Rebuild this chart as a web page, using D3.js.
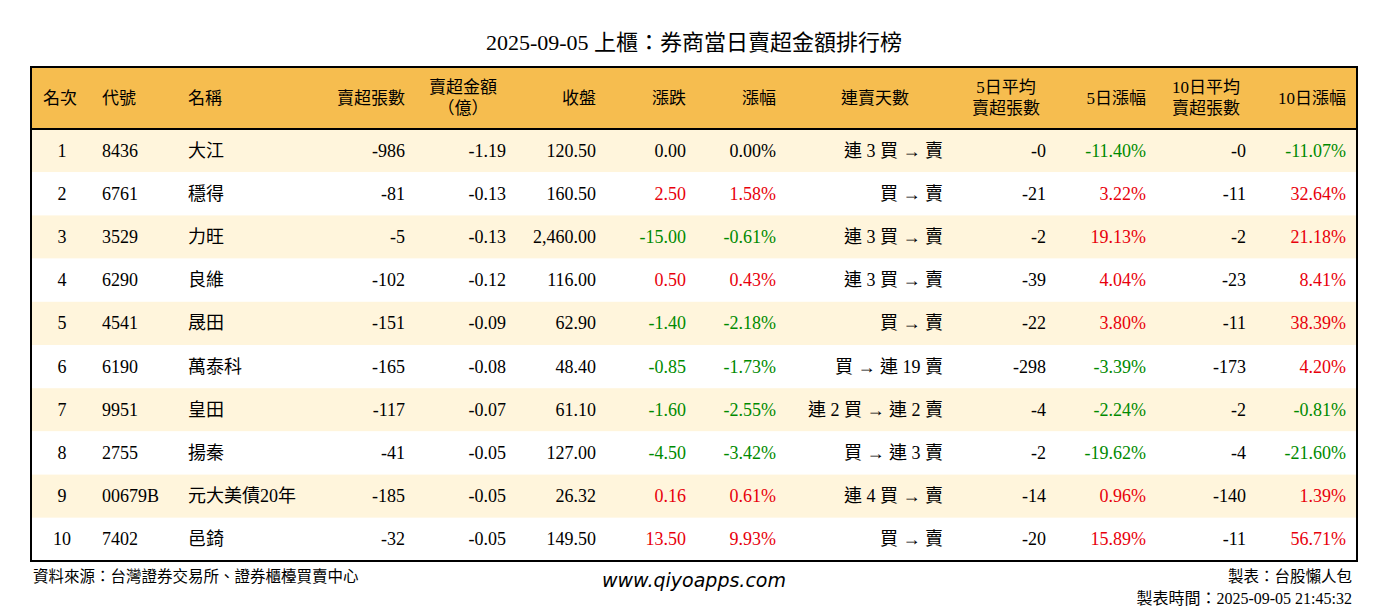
<!DOCTYPE html><html><head><meta charset="utf-8"><script src="https://cdn.jsdelivr.net/npm/d3@7"></script>
<style>body{margin:0;background:#fff}text{font-family:"Liberation Serif","DejaVu Serif","Noto Sans CJK TC",serif}</style></head><body><svg id="c" width="1388" height="612"></svg>
<script>
const title="2025-09-05 上櫃：券商當日賣超金額排行榜";
const ranks=[1,2,3,4,5,6,7,8,9,10];
const codes=["8436","6761","3529","6290","4541","6190","9951","2755","00679B","7402"];
const names=["大江","穩得","力旺","良維","晟田","萬泰科","皇田","揚秦","元大美債20年","邑錡"];
const netSell=["-986","-81","-5","-102","-151","-165","-117","-41","-185","-32"];
const amount=["-1.19","-0.13","-0.13","-0.12","-0.09","-0.08","-0.07","-0.05","-0.05","-0.05"];
const close=["120.50","160.50","2,460.00","116.00","62.90","48.40","61.10","127.00","26.32","149.50"];
const change=[0,2.5,-15,0.5,-1.4,-0.85,-1.6,-4.5,0.16,13.5];
const pct=[0,1.58,-0.61,0.43,-2.18,-1.73,-2.55,-3.42,0.61,9.93];
const streak=["連 3 買 → 賣","買 → 賣","連 3 買 → 賣","連 3 買 → 賣","買 → 賣","買 → 連 19 賣","連 2 買 → 連 2 賣","買 → 連 3 賣","連 4 買 → 賣","買 → 賣"];
const avg5=["-0","-21","-2","-39","-22","-298","-4","-2","-14","-20"];
const pct5=[-11.40,3.22,19.13,4.04,3.80,-3.39,-2.24,-19.62,0.96,15.89];
const avg10=["-0","-11","-2","-23","-11","-173","-2","-4","-140","-11"];
const pct10=[-11.07,32.64,21.18,8.41,38.39,4.20,-0.81,-21.60,1.39,56.71];
const headers=[["名次"],["代號"],["名稱"],["賣超張數"],["賣超金額","（億）"],["收盤"],["漲跌"],["漲幅"],["連賣天數"],["5日平均","賣超張數"],["5日漲幅"],["10日平均","賣超張數"],["10日漲幅"]];

const svg=d3.select("#c");
const L=31,R=1357,HT=67,HB=129,RB=561;
const y=d3.scaleBand().domain(ranks).range([HB,RB]);
const col=v=>v>0?"#e8000b":v<0?"#008a00":"#000";
const cols=[{x:62,a:"middle",hx:43,ha:"start"},{x:102,a:"start",hx:102,ha:"start"},{x:188,a:"start",hx:188,ha:"start"},
{x:405,a:"end",hx:405,ha:"end"},{x:506,a:"end",hx:463,ha:"middle"},{x:596,a:"end",hx:596,ha:"end"},{x:686,a:"end",hx:686,ha:"end"},
{x:776,a:"end",hx:776,ha:"end"},{x:943,a:"end",hx:875,ha:"middle"},{x:1046,a:"end",hx:1006,ha:"middle"},{x:1146,a:"end",hx:1146,ha:"end"},
{x:1246,a:"end",hx:1206,ha:"middle"},{x:1346,a:"end",hx:1346,ha:"end"}];
svg.append("text").attr("x",694).attr("y",50).attr("text-anchor","middle").attr("font-size",22).text(title);
svg.append("rect").attr("x",L).attr("y",HT).attr("width",R-L).attr("height",HB-HT).attr("fill","#f6bd4f");
ranks.forEach((r,i)=>svg.append("rect").attr("x",L).attr("y",y(r)).attr("width",R-L).attr("height",y.bandwidth()).attr("fill",i%2==0?"#fff5dc":"#fff"));
headers.forEach((h,j)=>{const t=svg.append("text").attr("x",cols[j].hx).attr("text-anchor",cols[j].ha).attr("font-size",17);
 if(h.length==1)t.attr("y",104).text(h[0]);else{t.append("tspan").attr("x",cols[j].hx).attr("y",93).text(h[0]);t.append("tspan").attr("x",cols[j].hx).attr("y",114).text(h[1]);}});
const f2=d3.format(".2f");
const fmt=v=>f2(v).replace("−","-");
ranks.forEach((r,i)=>{
 const vals=[[r,"#000"],[codes[i],"#000"],[names[i],"#000"],[netSell[i],"#000"],[amount[i],"#000"],[close[i],"#000"],
 [fmt(change[i]),col(change[i])],[fmt(pct[i])+"%",col(pct[i])],[streak[i],"#000"],[avg5[i],"#000"],[fmt(pct5[i])+"%",col(pct5[i])],[avg10[i],"#000"],[fmt(pct10[i])+"%",col(pct10[i])]];
 vals.forEach((v,j)=>svg.append("text").attr("x",cols[j].x).attr("y",y(r)+y.bandwidth()/2+6).attr("text-anchor",cols[j].a).attr("font-size",18).attr("fill",v[1]).text(v[0]));
});
svg.append("line").attr("x1",L).attr("x2",R).attr("y1",HB).attr("y2",HB).attr("stroke","#000").attr("stroke-width",2);
svg.append("rect").attr("x",L).attr("y",HT).attr("width",R-L).attr("height",RB-HT).attr("fill","none").attr("stroke","#000").attr("stroke-width",2);
svg.append("text").attr("x",33).attr("y",582).attr("font-size",15.5).text("資料來源：台灣證券交易所、證券櫃檯買賣中心");
svg.append("text").attr("x",694).attr("y",587).attr("text-anchor","middle").attr("font-size",19).attr("font-style","italic").style("font-family","'DejaVu Sans',sans-serif").text("www.qiyoapps.com");
svg.append("text").attr("x",1352).attr("y",582).attr("text-anchor","end").attr("font-size",15.5).text("製表：台股懶人包");
svg.append("text").attr("x",1352).attr("y",604).attr("text-anchor","end").attr("font-size",16).text("製表時間：2025-09-05 21:45:32");
</script></body></html>
